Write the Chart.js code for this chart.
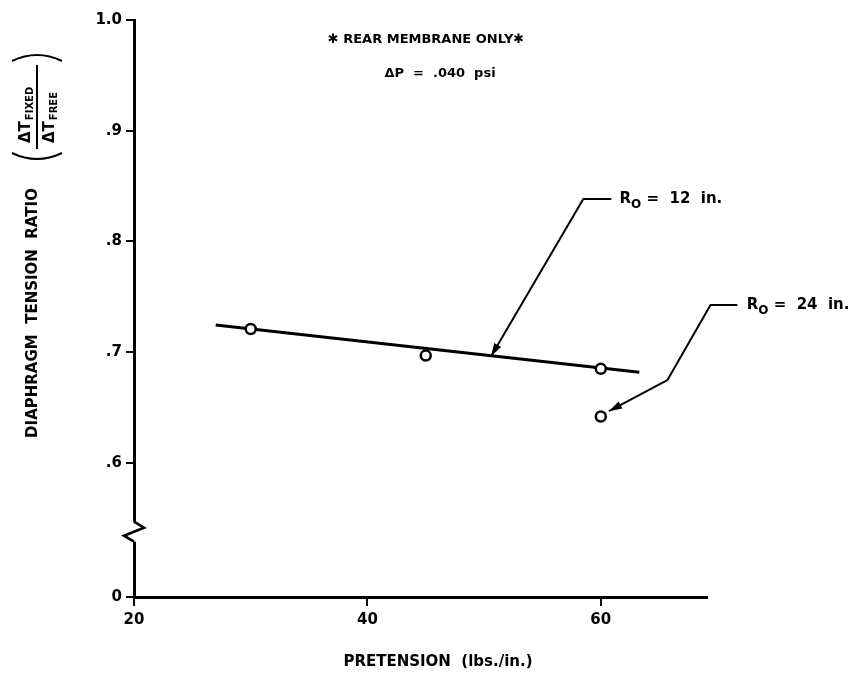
<!DOCTYPE html>
<html>
<head>
<meta charset="utf-8">
<title>Diaphragm tension ratio vs pretension</title>
<script src="https://cdn.jsdelivr.net/npm/chart.js@4.4.1/dist/chart.umd.min.js"></script>
<style>
  html, body { margin: 0; padding: 0; background: #fff; }
  #wrap { width: 859px; height: 673px; }
</style>
</head>
<body>
<div id="wrap"><canvas id="c" width="859" height="673"></canvas></div>
<script>
// Measured tension ratios, R0 = 12 in.
const pretension12 = [30, 45, 60];
const ratio12 = [0.721, 0.697, 0.685];
// Measured tension ratio, R0 = 24 in.
const pretension24 = [60];
const ratio24 = [0.642];
// Straight-line fit through the R0 = 12 in. data
const fitPretension = [27, 63.3];
const fitRatio = [0.7245, 0.682];
// Axis ticks
const xTicks = [20, 40, 60];
const yTicks = [0.6, 0.7, 0.8, 0.9, 1.0];
const yTickLabels = ['.6', '.7', '.8', '.9', '1.0'];
// The ratio axis is broken between 0 and .6: the "0" tick sits at this scale value
const yZeroPosition = 0.479;
// Leader lines (data units) and their labels
const leader12 = [[60.9, 0.8383], [58.5, 0.8383], [50.6, 0.6964]];
const leader24 = [[71.7, 0.7426], [69.4, 0.7426], [65.7, 0.6748], [60.7, 0.6468]];
const label12 = { text: ' =  12  in.', at: [61.6, 0.8383] };
const label24 = { text: ' =  24  in.', at: [72.5, 0.7426] };

const FONT = '"DejaVu Sans", sans-serif';
const toXY = (xs, ys) => xs.map((v, i) => ({ x: v, y: ys[i] }));

function arrowHead(ctx, from, to, len, half) {
  const a = Math.atan2(to[1] - from[1], to[0] - from[0]);
  ctx.beginPath();
  ctx.moveTo(to[0], to[1]);
  ctx.lineTo(to[0] - len * Math.cos(a) + half * Math.sin(a), to[1] - len * Math.sin(a) - half * Math.cos(a));
  ctx.lineTo(to[0] - len * Math.cos(a) - half * Math.sin(a), to[1] - len * Math.sin(a) + half * Math.cos(a));
  ctx.closePath();
  ctx.fill();
}

function radiusLabel(ctx, x, y, rest) {
  ctx.textAlign = 'left';
  ctx.textBaseline = 'middle';
  ctx.font = 'bold 15px ' + FONT;
  ctx.fillText('R', x, y);
  let w = ctx.measureText('R').width;
  ctx.font = 'bold 12px ' + FONT;
  ctx.fillText('O', x + w, y + 6);
  w += ctx.measureText('O').width;
  ctx.font = 'bold 15px ' + FONT;
  ctx.fillText(rest, x + w, y);
}

const decorations = {
  id: 'decorations',
  afterDraw(chart) {
    const { ctx, chartArea } = chart;
    const sx = chart.scales.x, sy = chart.scales.y;
    const p = (pt) => [sx.getPixelForValue(pt[0]), sy.getPixelForValue(pt[1])];
    ctx.save();
    ctx.fillStyle = '#000';
    ctx.strokeStyle = '#000';

    // break mark on the ratio axis
    const L = chartArea.left;
    const yA = sy.getPixelForValue(0.547), yB = sy.getPixelForValue(0.529);
    ctx.fillStyle = '#fff';
    ctx.fillRect(L - 3, yA, 6, yB - yA);
    ctx.fillStyle = '#000';
    ctx.lineWidth = 2.6;
    ctx.lineJoin = 'miter';
    ctx.beginPath();
    ctx.moveTo(L, yA);
    ctx.lineTo(L + 10, yA + 6);
    ctx.lineTo(L - 10, yA + 14);
    ctx.lineTo(L, yB);
    ctx.stroke();

    // leader lines with arrowheads
    ctx.lineWidth = 2;
    ctx.lineJoin = 'round';
    [leader12, leader24].forEach(pts => {
      const px = pts.map(p);
      ctx.beginPath();
      px.forEach((q, i) => i ? ctx.lineTo(q[0], q[1]) : ctx.moveTo(q[0], q[1]));
      ctx.stroke();
      arrowHead(ctx, px[px.length - 2], px[px.length - 1], 13, 4);
    });
    const l12 = p(label12.at), l24 = p(label24.at);
    radiusLabel(ctx, l12[0], l12[1], label12.text);
    radiusLabel(ctx, l24[0], l24[1], label24.text);

    // heading
    ctx.textAlign = 'center';
    ctx.textBaseline = 'middle';
    ctx.font = 'bold 13px ' + FONT;
    ctx.fillText('\u2731 REAR MEMBRANE ONLY\u2731', 426, 40);
    ctx.fillText('\u0394P  =  .040  psi', 440, 74);

    // x axis title
    ctx.font = 'bold 15px ' + FONT;
    ctx.fillText('PRETENSION  (lbs./in.)', 438, 662);

    // y axis title, rotated
    ctx.save();
    ctx.translate(33, 313);
    ctx.rotate(-Math.PI / 2);
    ctx.font = 'bold 15px ' + FONT;
    ctx.fillText('DIAPHRAGM  TENSION  RATIO', 0, 0);
    ctx.restore();

    // fraction ΔT_FIXED / ΔT_FREE in parentheses, rotated
    ctx.save();
    ctx.translate(37, 107);
    ctx.rotate(-Math.PI / 2);
    ctx.lineWidth = 2;
    ctx.beginPath();
    ctx.moveTo(-42, 0); ctx.lineTo(42, 0);
    ctx.stroke();
    ctx.beginPath();
    ctx.moveTo(-46, -25); ctx.quadraticCurveTo(-58, 0, -46, 25);
    ctx.stroke();
    ctx.beginPath();
    ctx.moveTo(46, -25); ctx.quadraticCurveTo(58, 0, 46, 25);
    ctx.stroke();
    ctx.textAlign = 'left';
    ctx.textBaseline = 'middle';
    const frac = (sub, v) => {
      ctx.font = 'bold 15px ' + FONT;
      ctx.fillText('\u0394T', -36, v);
      const w = ctx.measureText('\u0394T').width;
      ctx.font = 'bold 10px ' + FONT;
      ctx.fillText(sub, -36 + w + 1, v + 4);
    };
    frac('FIXED', -11);
    frac('FREE', 13);
    ctx.restore();

    ctx.restore();
  }
};

new Chart(document.getElementById('c'), {
  type: 'scatter',
  data: {
    datasets: [
      {
        label: 'R0 = 12 in.',
        data: toXY(pretension12, ratio12),
        showLine: false,
        pointRadius: 5,
        pointBorderWidth: 2.5,
        pointBackgroundColor: '#fff',
        pointBorderColor: '#000',
        clip: false
      },
      {
        label: 'R0 = 24 in.',
        data: toXY(pretension24, ratio24),
        showLine: false,
        pointRadius: 5,
        pointBorderWidth: 2.5,
        pointBackgroundColor: '#fff',
        pointBorderColor: '#000',
        clip: false
      },
      {
        label: 'fit',
        data: toXY(fitPretension, fitRatio),
        showLine: true,
        borderColor: '#000',
        borderWidth: 3,
        pointRadius: 0,
        tension: 0,
        clip: false
      }
    ]
  },
  options: {
    responsive: false,
    devicePixelRatio: 1,
    animation: false,
    events: [],
    layout: { padding: { top: 20, right: 152, left: 0, bottom: 0 } },
    plugins: { legend: { display: false }, tooltip: { enabled: false } },
    scales: {
      x: {
        type: 'linear',
        min: 20,
        max: 69.1,
        afterBuildTicks: s => { s.ticks = xTicks.map(v => ({ value: v })); },
        afterFit: s => { s.height = 76; },
        ticks: {
          color: '#000',
          font: { family: FONT, size: 15, weight: 'bold' },
          padding: 5,
          maxRotation: 0,
          callback: v => String(v)
        },
        grid: { drawOnChartArea: false, drawTicks: true, tickLength: 9, color: '#000', lineWidth: 2 },
        border: { display: true, color: '#000', width: 3 }
      },
      y: {
        type: 'linear',
        min: yZeroPosition,
        max: 1.0,
        afterBuildTicks: s => {
          s.ticks = [{ value: yZeroPosition }].concat(yTicks.map(v => ({ value: v })));
        },
        afterFit: s => { s.width = 134; },
        ticks: {
          color: '#000',
          font: { family: FONT, size: 15, weight: 'bold' },
          padding: 4,
          callback: (v, i) => (i === 0 ? '0' : yTickLabels[i - 1])
        },
        grid: { drawOnChartArea: false, drawTicks: true, tickLength: 8, color: '#000', lineWidth: 2 },
        border: { display: true, color: '#000', width: 3 }
      }
    }
  },
  plugins: [decorations]
});
</script>
</body>
</html>
